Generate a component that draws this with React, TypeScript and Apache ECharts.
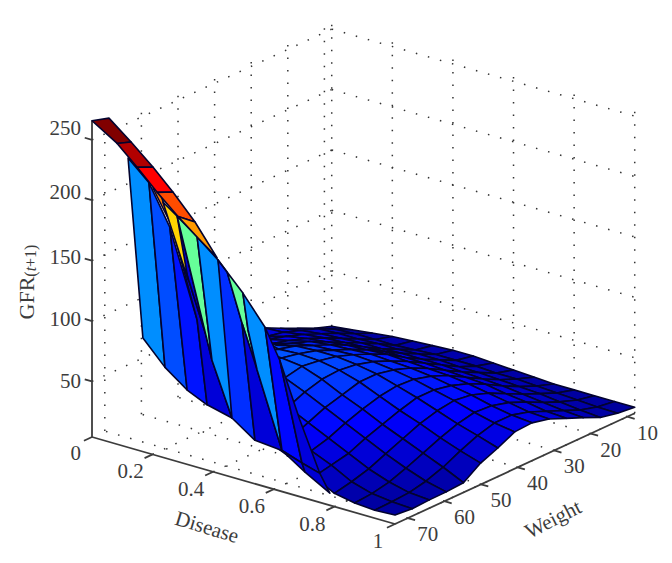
import React, { useEffect, useRef } from "react";
import * as echarts from "echarts";

const gfrTicks = [0, 50, 100, 150, 200, 250];
const diseaseTicks = [0.2, 0.4, 0.6, 0.8, 1];
const weightTicks = [70, 60, 50, 40, 30, 20, 10];
const weightMax = 73.5;
const weightMin = 8;
const gfrFloor = 4;
const gfrTop = 262;
const gfrLabelLift = [0, 0, 2, 4, 8, 12];
const sheetColourShare = 0.78;

// main sheet of the surface: rows by weight, columns by disease
const sheetDisease = [0, 0.067, 0.133, 0.2, 0.267, 0.333, 0.4, 0.467, 0.533, 0.6, 0.667, 0.733, 0.8, 0.867, 0.933, 1];
const sheetWeight = [73.5, 68.8, 64.1, 59.5, 54.8, 50.1, 45.4, 40.8, 36.1, 31.4, 26.7, 22, 17.4, 12.7, 8];
const n = null;
const sheetGfr = [
  [n, n, n, n, n, n, n, n, n, 40, 33, 24, 15, 11.8, 10.6, 11.5],
  [n, n, n, n, n, n, n, n, 46, 40, 34, 27, 18, 13, 11, 10],
  [n, n, n, n, n, n, n, 62, 54, 46, 38, 30, 22, 16, 12, 10.8],
  [n, n, n, n, n, 75, 73, 67, 60, 52, 44, 36, 28, 21, 15, 11],
  [n, n, n, n, 72, 72, 72, 70, 64, 56, 49, 41, 34, 27, 20, 12],
  [n, n, n, 66, 72, 68, 69, 68, 65, 60, 53, 46, 40, 33, 27, 21.7],
  [n, n, 55, 60, 60, 64, 65, 65, 63, 60, 55, 50, 44, 38, 33, 27.6],
  [n, 45, 50, 50, 55, 58, 59, 60, 59, 57, 54, 50, 46, 41, 37, 34.5],
  [40, 42, 42, 46, 50, 52, 53, 54, 53, 52, 50, 47, 44, 40, 37, 35.4],
  [36, 33, 38, 41, 43, 45, 46, 47, 46, 45, 44, 42, 39, 36, 33, 32],
  [29, 30, 33, 35, 36, 37, 38, 38, 38, 37, 36, 35, 32, 30, 27, 26],
  [22, 25, 27, 28, 29, 29, 30, 30, 30, 29, 28, 27, 25, 23, 21, 20],
  [15.6, 20, 21, 21, 22, 22, 23, 23, 22, 22, 21, 20, 19, 17, 15, 13.7],
  [9, 13, 14, 14, 14, 15, 16, 16, 16, 15, 15, 14, 13, 12, 11, 10.6],
  [4, 6, 8, 10, 11, 12, 13, 13, 12, 11, 10, 9, 9, 9, 9, 9],
];

// folded front part of the surface: points read at the heaviest weight
const foldDisease = [
  0, 0.083, 0.149, 0.215, 0.284, 0.35, 0.416, 0.498, 0.571,
  0.056, 0.129, 0.201, 0.267, 0.34, 0.413,
  0.119, 0.188, 0.257,
  0.168, 0.241, 0.314, 0.38, 0.462, 0.538, 0.627, 0.703, 0.802,
  0.347, 0.264, 0.234, 0.281, 0.317, 0.201, 0.224, 0.257, 0.347, 0.396, 0.446, 0.446, 0.495, 0.515, 0.545,
  0.62, 0.693, 0.686, 0.752, 0.785,
];
const foldGfr = [
  265.8, 253, 238, 222, 207, 194, 180.5, 159, 136,
  272, 257.5, 242, 226, 206.5, 182,
  243.5, 228, 196,
  98, 79, 65.5, 58, 53, 40, 38, 25.6, 13.7,
  125.8, 197, 215.4, 207, 157, 224.6, 223, 200.5, 194.5, 96, 124.6, 172.6, 134, 129.7, 98.7,
  112, 32.4, 67.5, 28, 14,
];
const foldFaces = [
  [15, 16, 19, 18], [16, 17, 20, 19], [17, 27, 21, 20], [28, 22, 21, 27], [30, 36, 22, 28],
  [32, 33, 34], [29, 30, 31], [30, 35, 36], [35, 6, 37, 22, 36], [6, 38, 39, 23, 22],
  [6, 7, 40, 41, 39, 38], [39, 41, 24, 23], [7, 8, 24, 41, 40], [8, 42, 43, 24],
  [42, 44, 45, 43], [24, 43, 25], [43, 45, 46, 25],
  [0, 9, 10, 1], [1, 10, 11, 2], [2, 11, 12, 3], [3, 12, 13, 4], [4, 13, 14, 5],
];
const foldFaceGfr = [70, 53, 38, 23, 23, 199, 177, 126, 70, 45, 126, 23, 70, 35, 24, 30, 22, 265, 252, 232, 212, 192];

const clamp = (v: number) => Math.max(0, Math.min(1, v));
const jet = (z: number) => {
  const v = clamp(z / 265);
  const r = clamp(Math.min(4 * v - 1.5, -4 * v + 4.5));
  const g = clamp(Math.min(4 * v - 0.5, -4 * v + 3.5));
  const b = clamp(Math.min(4 * v + 0.5, -4 * v + 2.5));
  return `rgb(${Math.round(r * 255)},${Math.round(g * 255)},${Math.round(b * 255)})`;
};

// orthographic view of the box, to the hidden pixel axes of the grid
const project = (d: number, w: number, z: number) => {
  const back = weightMax - w;
  return [
    92 + 303 * d + back * 3.66,
    437 + 87 * d - back * 1.69 - (Math.max(z, gfrFloor) - gfrFloor) * 1.208,
  ];
};

const MESH = "#03032e";
const INK = "#3c3c3c";
const SERIF = '"Liberation Serif", serif';

const layer = (items: any[], draw: (item: any, api: any) => any) => ({
  type: "custom",
  coordinateSystem: "cartesian2d",
  silent: true,
  clip: false,
  data: items.map((_, i) => [i, 0]),
  encode: { x: 0, y: 1 },
  renderItem: (params: any, api: any) => draw(items[params.dataIndex], api),
});

const pt = (api: any, p: number[]) => {
  const q = project(p[0], p[1], p[2]);
  return api.coord([q[0], q[1]]);
};

const segment = (stroke: string, lineWidth: number, lineDash?: number[]) => (s: any, api: any) => {
  const a = pt(api, s[0]);
  const b = pt(api, s[1]);
  return {
    type: "line",
    shape: { x1: a[0], y1: a[1], x2: b[0], y2: b[1] },
    style: { stroke, lineWidth, lineDash, fill: null },
  };
};

const face = (f: any, api: any) => ({
  type: "polygon",
  shape: { points: f.corners.map((c: number[]) => pt(api, c)) },
  style: { fill: jet(f.value), stroke: MESH, lineWidth: 1.6, lineJoin: "round" },
});

const label = (l: any, api: any) => {
  const q = l.at ? pt(api, l.at) : api.coord(l.px);
  return {
    type: "text",
    x: q[0] + (l.dx || 0),
    y: q[1] + (l.dy || 0),
    rotation: ((l.rot || 0) * Math.PI) / 180,
    style: {
      text: l.text,
      fill: INK,
      font: `${l.size || 21}px ${SERIF}`,
      align: l.align || "center",
      verticalAlign: "middle",
      rich: l.rich,
    },
  };
};

const buildOption = () => {
  const dots: any[] = [];
  diseaseTicks.forEach((d) => {
    dots.push([[d, weightMax, 0], [d, weightMin, 0]]);
    dots.push([[d, weightMin, 0], [d, weightMin, gfrTop]]);
  });
  weightTicks.forEach((w) => {
    dots.push([[1, w, 0], [0, w, 0]]);
    dots.push([[0, w, 0], [0, w, gfrTop]]);
  });
  dots.push([[0, weightMin, 0], [0, weightMin, gfrTop]]);
  gfrTicks.slice(1).forEach((z) => {
    dots.push([[0, weightMax, z], [0, weightMin, z]]);
    dots.push([[0, weightMin, z], [1, weightMin, z]]);
  });

  const sheet: any[] = [];
  for (let j = sheetWeight.length - 2; j >= 0; j--) {
    for (let k = 0; k < sheetDisease.length - 1; k++) {
      const vals = [sheetGfr[j][k], sheetGfr[j][k + 1], sheetGfr[j + 1][k + 1], sheetGfr[j + 1][k]];
      if (vals.some((v) => v === null)) continue;
      sheet.push({
        value: ((vals[0]! + vals[1]! + vals[2]! + vals[3]!) / 4) * sheetColourShare,
        corners: [
          [sheetDisease[k], sheetWeight[j], vals[0]],
          [sheetDisease[k + 1], sheetWeight[j], vals[1]],
          [sheetDisease[k + 1], sheetWeight[j + 1], vals[2]],
          [sheetDisease[k], sheetWeight[j + 1], vals[3]],
        ],
      });
    }
  }

  const fold = foldFaces.map((ids, i) => ({
    value: foldFaceGfr[i],
    corners: ids.map((id) => [foldDisease[id], weightMax, foldGfr[id]]),
  }));

  const axes: any[] = [
    [[0, weightMax, 0], [0, weightMax, 266]],
    [[0, weightMax, 0], [1, weightMax, 0]],
    [[1, weightMax, 0], [1, weightMin, 0]],
  ];
  gfrTicks.slice(1).forEach((z) => axes.push([[0, weightMax, z], [-0.024, weightMax, z]]));
  axes.push([[0, weightMax, 0], [0, weightMax + 2.2, 0]]);
  diseaseTicks.forEach((d) => axes.push([[d, weightMax, 0], [d, weightMax + 2.2, 0]]));
  weightTicks.forEach((w) => axes.push([[1, w, 0], [1.024, w, 0]]));

  const labels: any[] = [];
  gfrTicks.forEach((z, i) => {
    labels.push({
      text: String(z),
      at: [0, weightMax, z],
      dx: -11,
      dy: z === 0 ? 16 : -gfrLabelLift[i],
      align: "right",
    });
  });
  diseaseTicks.forEach((d) =>
    labels.push({ text: String(d), at: [d, weightMax, 0], dx: d === 1 ? -17 : -22, dy: 17 })
  );
  weightTicks.forEach((w) => labels.push({ text: String(w), at: [1, w, 0], dx: 20, dy: 16 }));
  labels.push({ text: "Disease", px: [207, 527], rot: -17 });
  labels.push({ text: "Weight", px: [553, 519], rot: 27 });
  labels.push({
    text: "{a|GFR}{b|(}{c|t}{b|+1)}",
    px: [26, 282],
    rot: 90,
    rich: {
      a: { font: `22px ${SERIF}`, fill: INK, verticalAlign: "middle" },
      b: { font: `16px ${SERIF}`, fill: INK, padding: [8, 0, 0, 0] },
      c: { font: `italic 16px ${SERIF}`, fill: INK, padding: [8, 0, 0, 0] },
    },
  });

  return {
    animation: false,
    backgroundColor: "#ffffff",
    grid: { left: 0, right: 0, top: 0, bottom: 0 },
    xAxis: { type: "value", min: 0, max: 672, show: false },
    yAxis: { type: "value", min: 0, max: 563, inverse: true, show: false },
    series: [
      layer(dots, segment("#333333", 1.5, [1.5, 11])),
      layer(axes, segment(INK, 1.8)),
      layer(sheet, face),
      layer(fold, face),
      layer(labels, label),
    ],
  };
};

export default function App() {
  const ref = useRef<HTMLDivElement>(null);
  useEffect(() => {
    const chart = echarts.init(ref.current!, undefined, { renderer: "svg" });
    chart.setOption(buildOption() as any);
    return () => chart.dispose();
  }, []);
  return <div ref={ref} style={{ position: "absolute", left: 0, top: 0, width: 672, height: 563 }} />;
}
